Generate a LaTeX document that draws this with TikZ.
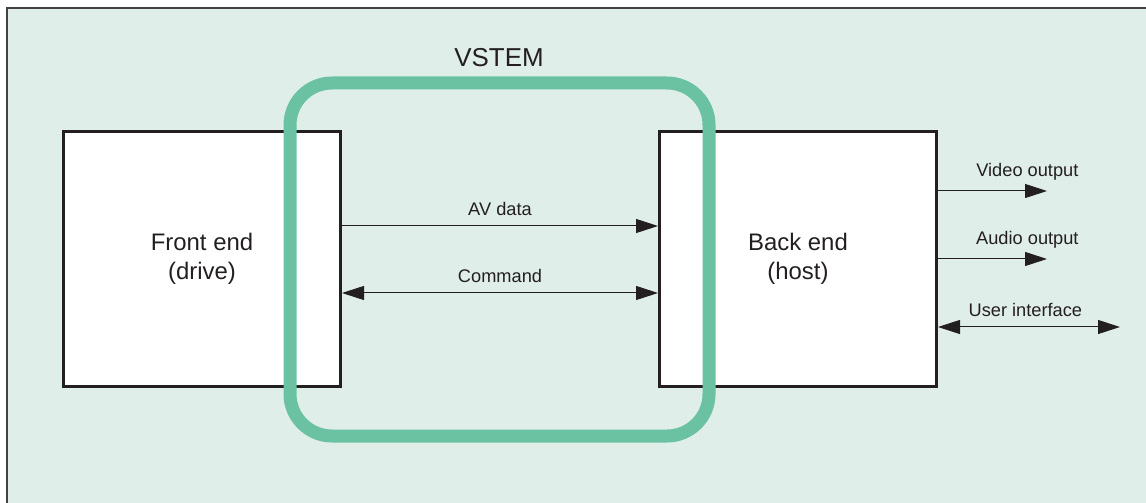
\documentclass[tikz,border=0pt]{standalone}
\usepackage{fontspec}
\setmainfont{Liberation Sans}
\usetikzlibrary{arrows.meta,positioning}
\definecolor{bgmint}{HTML}{E0EEE9}
\definecolor{vstemgreen}{HTML}{6BC2A3}
\definecolor{inkdark}{HTML}{231F20}

\begin{document}
\begin{tikzpicture}[x=1bp,y=-1bp,
    block/.style={draw=inkdark,line width=3bp,fill=white,text=inkdark,
        minimum width=277bp,minimum height=255bp,align=center,
        font=\fontsize{24}{29}\selectfont},
    sig/.style={draw=inkdark,line width=1bp,-{Triangle[length=22bp,width=14bp]}},
    both/.style={sig,{Triangle[length=22bp,width=14bp]}-{Triangle[length=22bp,width=14bp]}},
    lbl/.style={text=inkdark,font=\fontsize{18.3}{22}\selectfont,inner sep=2bp,above=8bp}]
                \useasboundingbox (0,0) rectangle (1146,503);
                \fill[bgmint] (7,8) rectangle (1146,503);
                \draw[inkdark!85,line width=1.5bp] (7,503) -- (7,8) -- (1146,8);
                \node[block] (FE) at (202,259) {Front end\\(drive)\rule[-6bp]{0pt}{0pt}};
                \node[block] (BE) at (798,259) {Back end\\(host)\rule[-6bp]{0pt}{0pt}};
                \draw[vstemgreen,line width=13bp,rounded corners=42bp] (290,83) rectangle (709,436);
                \node[text=inkdark,font=\fontsize{26}{30}\selectfont] (VS) at (499,58) {VSTEM};
                \draw[sig] ([yshift=33bp]FE.east) --node[lbl] (av) {AV data} ([yshift=33bp]BE.west);
                \draw[both] ([yshift=-34bp]FE.east) --node[lbl] (cmd) {Command} ([yshift=-34bp]BE.west);
                \coordinate (vidEnd) at (1047,191);
                \coordinate (audEnd) at (1047,259);
                \coordinate (uiEnd) at (1120,327);
                \draw[sig] (BE.east |- vidEnd) --node[lbl,pos=0.82] (vid) {Video output} (vidEnd);
                \draw[sig] (BE.east |- audEnd) --node[lbl,pos=0.82] (aud) {Audio output} (audEnd);
                \draw[both] (BE.east |- uiEnd) --node[lbl,pos=0.48] (ui) {User interface} (uiEnd);
            \end{tikzpicture}
\end{document}
